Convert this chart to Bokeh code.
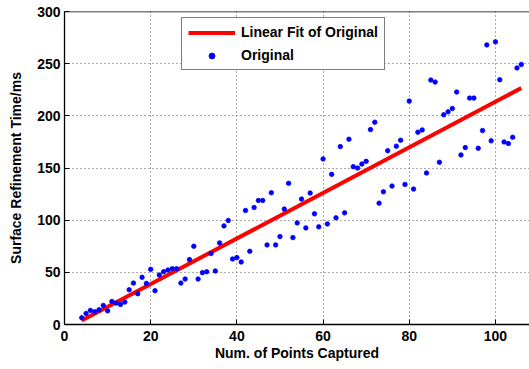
from bokeh.plotting import figure
from bokeh.models import Range1d, FixedTicker, Legend, LegendItem, Span
from bokeh.embed import file_html
from bokeh.resources import INLINE

# ---- data ----
points_x = list(range(4, 107))
points_y = [
    6.4, 10.6, 13.5, 12.2, 14.1, 18.3, 13.1, 22.1, 20.5, 19.2,      # 4-13
    21.5, 33.3, 39.7, 29.5, 45.2, 39.4, 52.9, 32.4, 47.4, 50.6,     # 14-23
    52.2, 53.5, 53.5, 39.7, 43.6, 62.2, 75.0, 43.6, 49.7, 50.6,     # 24-33
    68.0, 51.3, 78.2, 94.5, 99.7, 62.8, 64.1, 59.9, 109.3, 70.2,    # 34-43
    112.2, 118.9, 118.9, 76.3, 126.3, 76.3, 84.3, 110.6, 135.3, 83.3,  # 44-53
    97.4, 120.2, 92.6, 126.0, 106.1, 93.6, 158.7, 96.4, 143.9, 102.2,  # 54-63
    170.5, 107.0, 177.6, 151.3, 150.0, 153.8, 156.4, 186.8, 193.9, 116.3,  # 64-73
    127.2, 166.6, 132.7, 170.9, 176.6, 134.3, 214.1, 129.8, 184.3, 186.5,  # 74-83
    145.2, 234.3, 232.4, 155.5, 201.0, 203.8, 207.0, 222.8, 162.5, 169.6,  # 84-93
    217.0, 217.0, 168.9, 185.9, 268.0, 176.0, 270.9, 234.6, 175.0, 173.4,  # 94-103
    179.5, 245.9, 249.3,                                              # 104-106
]
fit_x = [4, 106]
fit_y = [3.8, 226.6]

x_ticks = [0, 20, 40, 60, 80, 100]
y_ticks = [0, 50, 100, 150, 200, 250, 300]

FONT = "Liberation Sans"

p = figure(width=529, height=369, output_backend="svg", toolbar_location=None,
           x_range=Range1d(0, 107.9), y_range=Range1d(0, 300),
           min_border_left=64, min_border_right=0, min_border_top=11,
           min_border_bottom=45)
p.outline_line_color = None
p.background_fill_color = "white"
p.border_fill_color = "white"

fit = p.line(fit_x, fit_y, line_color="#ff0000", line_width=4)
pts = p.scatter(points_x, points_y, size=4.5, fill_color="#0000ff",
                line_color="#0000ff", line_width=0.8)

for ax in (p.xaxis[0], p.yaxis[0]):
    ax.major_tick_in = 5
    ax.major_tick_out = 0
    ax.minor_tick_in = 0
    ax.minor_tick_out = 0
    ax.axis_line_color = "black"
    ax.axis_line_width = 1.3
    ax.major_tick_line_color = "black"
    ax.major_label_text_font = FONT
    ax.major_label_text_font_style = "bold"
    ax.major_label_text_font_size = "14px"
    ax.major_label_text_color = "black"
    ax.axis_label_text_font = FONT
    ax.axis_label_text_font_style = "bold"
    ax.axis_label_text_font_size = "14px"
    ax.axis_label_text_color = "black"

p.xaxis[0].ticker = FixedTicker(ticks=x_ticks)
p.yaxis[0].ticker = FixedTicker(ticks=y_ticks)
p.xaxis[0].axis_label = "Num. of Points Captured"
p.yaxis[0].axis_label = "Surface Refinement Time/ms"
p.xaxis[0].major_label_standoff = 6
p.xaxis[0].axis_label_standoff = 1
p.yaxis[0].major_label_standoff = 4
p.yaxis[0].axis_label_standoff = 10

# top border of the axes box
p.add_layout(Span(location=y_ticks[-1], dimension="width",
                  line_color="black", line_width=1.5))

p.xgrid.ticker = FixedTicker(ticks=x_ticks[1:])
p.ygrid.ticker = FixedTicker(ticks=y_ticks[1:-1])
for g in (p.xgrid[0], p.ygrid[0]):
    g.grid_line_color = "#555555"
    g.grid_line_dash = "1 3"
    g.grid_line_width = 1

legend = Legend(items=[
    LegendItem(label="Linear Fit of Original", renderers=[fit]),
    LegendItem(label="Original", renderers=[pts]),
], location=(117, 254))
legend.label_text_font = FONT
legend.label_text_font_style = "bold"
legend.label_text_font_size = "14px"
legend.label_text_color = "black"
legend.glyph_width = 47
legend.glyph_height = 15
legend.label_height = 15
legend.label_standoff = 6
legend.padding = 6
legend.spacing = 7
legend.margin = 0
legend.border_line_color = "black"
legend.border_line_width = 1.5
legend.background_fill_color = "white"
legend.background_fill_alpha = 1
p.add_layout(legend)

open("out.html", "w").write(file_html(p, INLINE))
